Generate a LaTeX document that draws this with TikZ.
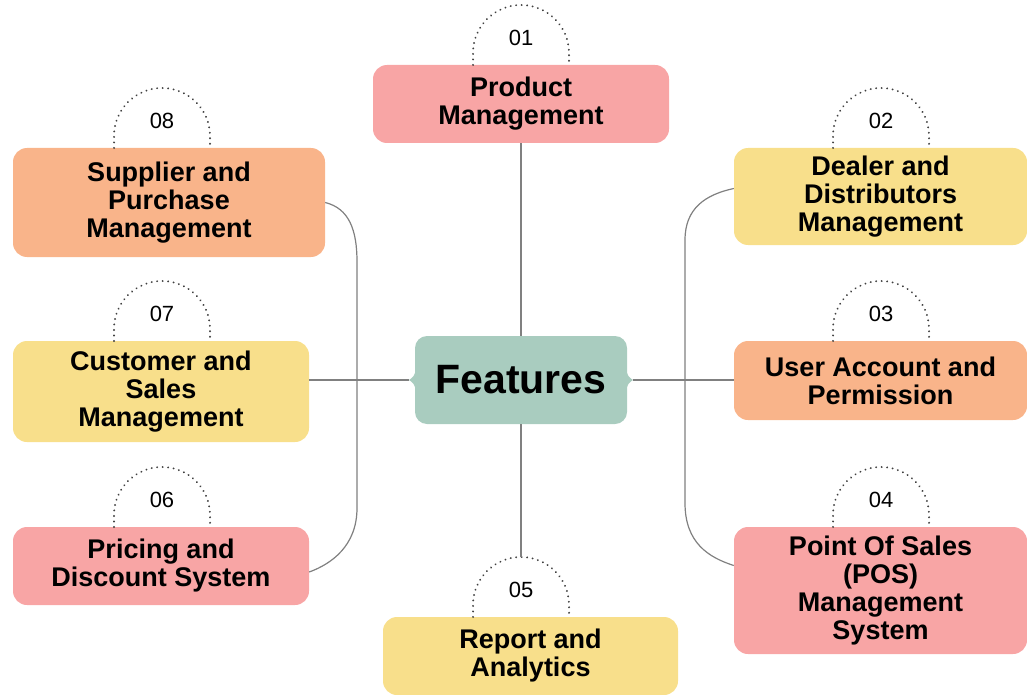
\documentclass[tikz,border=0pt]{standalone}
\usepackage{fontspec}
\setmainfont{Liberation Sans}
\definecolor{boxpink}{HTML}{F8A5A5}
\definecolor{boxyellow}{HTML}{F8DF8B}
\definecolor{boxorange}{HTML}{F9B48A}
\definecolor{boxteal}{HTML}{A9CCBF}
\definecolor{linkgray}{HTML}{808080}
\tikzset{
  feature/.style={rounded corners=14pt, align=center, inner sep=0pt,
    font=\bfseries\fontsize{27}{28}\selectfont},
  link/.style={draw=linkgray, line width=1.2pt},
  numarc/.style={draw=black!75, line width=2pt, line cap=round, dash pattern=on 0.1pt off 5.4pt},
  numlabel/.style={font=\fontsize{22}{24}\selectfont}
}
\begin{document}
\begin{tikzpicture}[x=1pt,y=-1pt]
\useasboundingbox (0,0) rectangle (1027,695);
%centre
\node[feature, fill=boxteal, minimum width=212pt, minimum height=88pt, rounded corners=12pt,
  font=\bfseries\fontsize{41}{44}\selectfont] (feat) at (521,380) {Features};
\fill[boxteal] (416,366) .. controls (416,376) and (412,378) .. (409,380)
  .. controls (412,382) and (416,384) .. (416,394) -- cycle;
\fill[boxteal] (626,366) .. controls (626,376) and (630,378) .. (633,380)
  .. controls (630,382) and (626,384) .. (626,394) -- cycle;
\coordinate (tipL) at (409,380);
\coordinate (tipR) at (633,380);

%features
\node[feature, fill=boxpink, minimum width=296pt, minimum height=78pt] (prod) at (521,104) {Product\\Management};
\node[feature, fill=boxyellow, minimum width=293pt, minimum height=97pt] (deal) at (880.5,196.5) {Dealer and\\Distributors\\Management};
\node[feature, fill=boxorange, minimum width=293pt, minimum height=79pt] (user) at (880.5,380.5) {User Account and\\Permission};
\node[feature, fill=boxpink, minimum width=293pt, minimum height=127pt] (pos) at (880.5,590.5) {Point Of Sales\\(POS)\\Management\\System};
\node[feature, fill=boxyellow, minimum width=295pt, minimum height=78pt] (rep) at (530.5,656) {Report and\\Analytics};
\node[feature, fill=boxpink, minimum width=296pt, minimum height=78pt] (pric) at (161,566) {Pricing and\\Discount System};
\node[feature, fill=boxyellow, minimum width=296pt, minimum height=101pt] (cust) at (161,391.5) {Customer and\\Sales\\Management};
\node[feature, fill=boxorange, minimum width=312pt, minimum height=109pt] (supp) at (169,202.5) {Supplier and\\Purchase\\Management};

%number arcs
\foreach \x/\y/\n in {521/65/01, 881/148/02, 881/341/03, 881/527/04, 521/617/05, 162/527/06, 162/341/07, 162/148/08}{
  \draw[numarc] (\x-48,\y) -- (\x-48,\y-12) arc[start angle=180, end angle=360, radius=48] -- (\x+48,\y);
  \node[numlabel] (num\n) at (\x,\y-27) {\n};
  \coordinate (top\n) at (\x,\y-60);
}

%links
\draw[link] (feat.north) -- (prod.south);
\draw[link] (feat.south) -- (top05);
\draw[link] (tipL) -- (tipL -| cust.east);
\draw[link] (tipR) -- (tipR -| user.west);
\coordinate (lbT) at (357,262);
\coordinate (lbB) at (357,508);
\draw[link] (supp.east) .. controls +(24,6) and +(0,-32) .. (lbT) -- (lbB)
  .. controls +(0,38) and +(22,-8) .. ([yshift=-6pt]pric.east);
\coordinate (rbT) at (685,240);
\coordinate (rbB) at (685,503);
\draw[link] ([yshift=8pt]deal.west) .. controls +(-28,6) and +(0,-32) .. (rbT) -- (rbB)
  .. controls +(0,40) and +(-25,-8) .. ([yshift=25pt]pos.west);
\end{tikzpicture}
\end{document}
